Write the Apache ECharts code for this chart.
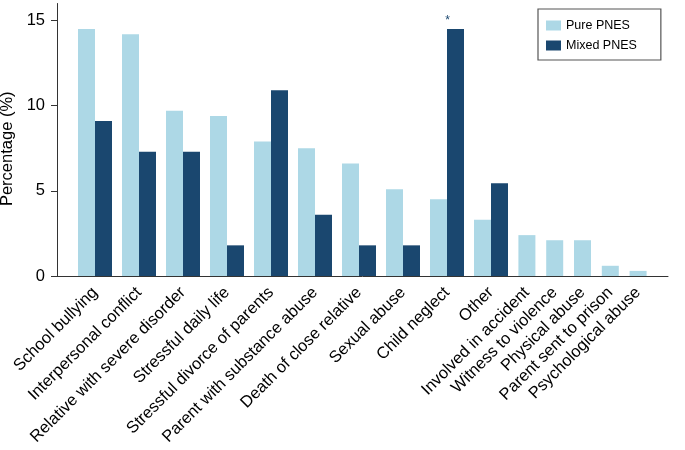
<!DOCTYPE html>
<html>
<head>
<meta charset="utf-8">
<script src="https://cdn.jsdelivr.net/npm/echarts@6/dist/echarts.min.js"></script>
<style>
html,body{margin:0;padding:0;background:#fff;}
#chart{width:685px;height:450px;}
</style>
</head>
<body>
<div id="chart"></div>
<script>
// ---- data ----
var categories = [
  'School bullying', 'Interpersonal conflict', 'Relative with severe disorder',
  'Stressful daily life', 'Stressful divorce of parents', 'Parent with substance abuse',
  'Death of close relative', 'Sexual abuse', 'Child neglect', 'Other',
  'Involved in accident', 'Witness to violence', 'Physical abuse',
  'Parent sent to prison', 'Psychological abuse'
];
var pureValues = [14.5, 14.2, 9.7, 9.4, 7.9, 7.5, 6.6, 5.1, 4.5, 3.3, 2.4, 2.1, 2.1, 0.6, 0.3];
var mixedValues = [9.1, 7.3, 7.3, 1.8, 10.9, 3.6, 1.8, 1.8, 14.5, 5.45];
var significant = ['Child neglect'];
var yTicks = [0, 5, 10, 15];

// ---- chart ----
var FONT = '"Liberation Sans", Arial, Helvetica, sans-serif';
var LIGHT = '#add8e6', NAVY = '#1a476f';
var nPair = mixedValues.length;
var cats1 = categories.slice(0, nPair);
var cats2 = categories.slice(nPair);

var mixedData = mixedValues.map(function (v, i) {
  var item = { value: v };
  if (significant.indexOf(cats1[i]) >= 0) {
    item.label = {
      show: true, position: 'top', formatter: '*', distance: 2,
      offset: [-8, 0], color: NAVY, fontSize: 12, fontFamily: FONT
    };
  }
  return item;
});

var TOP = 3.5, BOTTOM = 174;
var xLabel = {
  rotate: 45, fontSize: 16.5, color: '#000', fontFamily: FONT, margin: 14, interval: 0
};

var chart = echarts.init(document.getElementById('chart'), null, { renderer: 'canvas' });
chart.setOption({
  animation: false,
  backgroundColor: '#fff',
  legend: {
    data: ['Pure PNES', 'Mixed PNES'],
    orient: 'vertical',
    left: 538, top: 9,
    itemWidth: 15, itemHeight: 10, itemGap: 7,
    padding: [10, 24, 8, 8],
    borderColor: '#555', borderWidth: 1.2,
    textStyle: { fontSize: 12.5, color: '#000', fontFamily: FONT },
    icon: 'rect'
  },
  grid: [
    { left: 57, right: 17, top: TOP, bottom: BOTTOM, containLabel: false, outerBoundsMode: 'none' },
    { left: 73, width: 440, top: TOP, bottom: BOTTOM, containLabel: false, outerBoundsMode: 'none' },
    { left: 513, width: 139, top: TOP, bottom: BOTTOM, containLabel: false, outerBoundsMode: 'none' }
  ],
  xAxis: [
    { gridIndex: 0, type: 'category', data: [''],
      axisLine: { show: true, lineStyle: { color: '#333', width: 1 } },
      axisTick: { show: false }, axisLabel: { show: false } },
    { gridIndex: 1, type: 'category', data: cats1,
      axisLine: { show: false }, axisTick: { show: false }, axisLabel: xLabel },
    { gridIndex: 2, type: 'category', data: cats2,
      axisLine: { show: false }, axisTick: { show: false }, axisLabel: xLabel }
  ],
  yAxis: [
    { gridIndex: 0, type: 'value', min: 0, max: 16,
      name: 'Percentage (%)', nameLocation: 'middle', nameGap: 39,
      nameTextStyle: { fontSize: 16.5, color: '#000', fontFamily: FONT, padding: [0, 18, 0, 0] },
      axisLine: { show: true, lineStyle: { color: '#333', width: 1 } },
      axisTick: { show: true, length: 6, customValues: yTicks, lineStyle: { color: '#333' } },
      axisLabel: { customValues: yTicks, fontSize: 16.5, color: '#000', fontFamily: FONT, margin: 12 },
      splitLine: { show: false } },
    { gridIndex: 1, type: 'value', min: 0, max: 16, show: false, splitLine: { show: false } },
    { gridIndex: 2, type: 'value', min: 0, max: 16, show: false, splitLine: { show: false } }
  ],
  series: [
    { name: 'Pure PNES', type: 'bar', xAxisIndex: 1, yAxisIndex: 1,
      data: pureValues.slice(0, nPair), barWidth: 17, barGap: '0%',
      itemStyle: { color: LIGHT } },
    { name: 'Mixed PNES', type: 'bar', xAxisIndex: 1, yAxisIndex: 1,
      data: mixedData, barWidth: 17, barGap: '0%',
      itemStyle: { color: NAVY } },
    { name: 'Pure PNES', type: 'bar', xAxisIndex: 2, yAxisIndex: 2,
      data: pureValues.slice(nPair), barWidth: 17,
      itemStyle: { color: LIGHT } }
  ]
});
</script>
</body>
</html>
